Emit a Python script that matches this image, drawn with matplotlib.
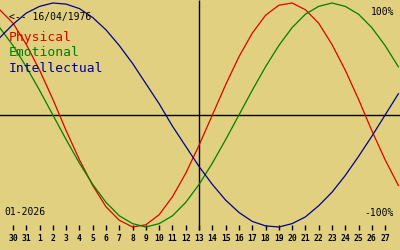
import numpy as np
import matplotlib
matplotlib.use('Agg')
import matplotlib.pyplot as plt

plt.rcParams.update({
    'font.family': 'DejaVu Sans Mono',
})

# day-of-month for each column (29 Dec 2025 .. 28 Jan 2026), today = 13
days = [29, 30, 31] + list(range(1, 29))
today = 13
tick_days = days[1:-1]          # 30, 31, 1 .. 27 are labelled

# biorhythm values (-1 .. 1)
physical = [0.94, 0.82, 0.63, 0.40, 0.14, -0.14, -0.40, -0.63, -0.82, -0.94,
            -1.00, -0.98, -0.89, -0.73, -0.52, -0.27, 0.00, 0.27, 0.52, 0.73,
            0.89, 0.98, 1.00, 0.94, 0.82, 0.63, 0.40, 0.14, -0.14, -0.40, -0.63]
emotional = [0.78, 0.62, 0.43, 0.22, 0.00, -0.22, -0.43, -0.62, -0.78, -0.90,
             -0.97, -1.00, -0.97, -0.90, -0.78, -0.62, -0.43, -0.22, 0.00, 0.22,
             0.43, 0.62, 0.78, 0.90, 0.97, 1.00, 0.97, 0.90, 0.78, 0.62, 0.43]
intellectual = [0.69, 0.81, 0.91, 0.97, 1.00, 0.99, 0.95, 0.87, 0.76, 0.62,
                0.46, 0.28, 0.10, -0.10, -0.28, -0.46, -0.62, -0.76, -0.87, -0.95,
                -0.99, -1.00, -0.97, -0.91, -0.81, -0.69, -0.54, -0.37, -0.19, 0.00, 0.19]

BG = '#E0D080'
C_PHY = '#E00000'
C_EMO = '#008000'
C_INT = '#000090'

W, H = 400, 250
STEP, X0 = 13.29, 13        # px per day, px of first labelled tick
YC, AMP = 115, 112          # px of zero line, px per 100%

fig = plt.figure(figsize=(4, 2.5), dpi=100)
fig.patch.set_facecolor(BG)
ax = fig.add_axes([0, 0, 1, 1])
ax.set_facecolor(BG)
ax.axis('off')

x = np.arange(len(days)) - 1
ax.set_xlim(-X0 / STEP, (W - X0) / STEP)
ax.set_ylim((YC - H) / AMP, YC / AMP)

def py(px):
    return (YC - px) / AMP

ax.axhline(0, color='black', lw=1.0, zorder=2)
i_today = days.index(today) - 1
ax.vlines(i_today, py(230), py(0), color='black', lw=1.0, zorder=2)

ax.plot(x, physical, color=C_PHY, lw=0.9, zorder=3)
ax.plot(x, emotional, color=C_EMO, lw=0.9, zorder=3)
ax.plot(x, intellectual, color=C_INT, lw=0.9, zorder=3)

# day ticks along the bottom
tick_x = np.arange(len(tick_days))
ax.vlines(tick_x, py(230), py(225), color='black', lw=1.0)
for tx, d in zip(tick_x, tick_days):
    ax.text(tx, py(238), str(d), ha='center', va='center',
            fontsize=5.8, fontweight='bold', color='black')

# labels in pixel positions
def ftxt(px, pyy, s, **kw):
    ax.text(px / W, 1 - pyy / H, s, transform=ax.transAxes, **kw)

ftxt(9, 17, '<-- 16/04/1976', fontsize=7, va='center', color='black')
ftxt(9, 38, 'Physical', fontsize=9.4, va='center', color=C_PHY)
ftxt(9, 53, 'Emotional', fontsize=9.4, va='center', color=C_EMO)
ftxt(9, 68, 'Intellectual', fontsize=9.4, va='center', color=C_INT)
ftxt(394, 12, '100%', fontsize=7, va='center', ha='right', color='black')
ftxt(394, 213, '-100%', fontsize=7, va='center', ha='right', color='black')
ftxt(4, 212, '01-2026', fontsize=7, va='center', color='black')

fig.savefig('out.png', dpi=100, facecolor=BG)
